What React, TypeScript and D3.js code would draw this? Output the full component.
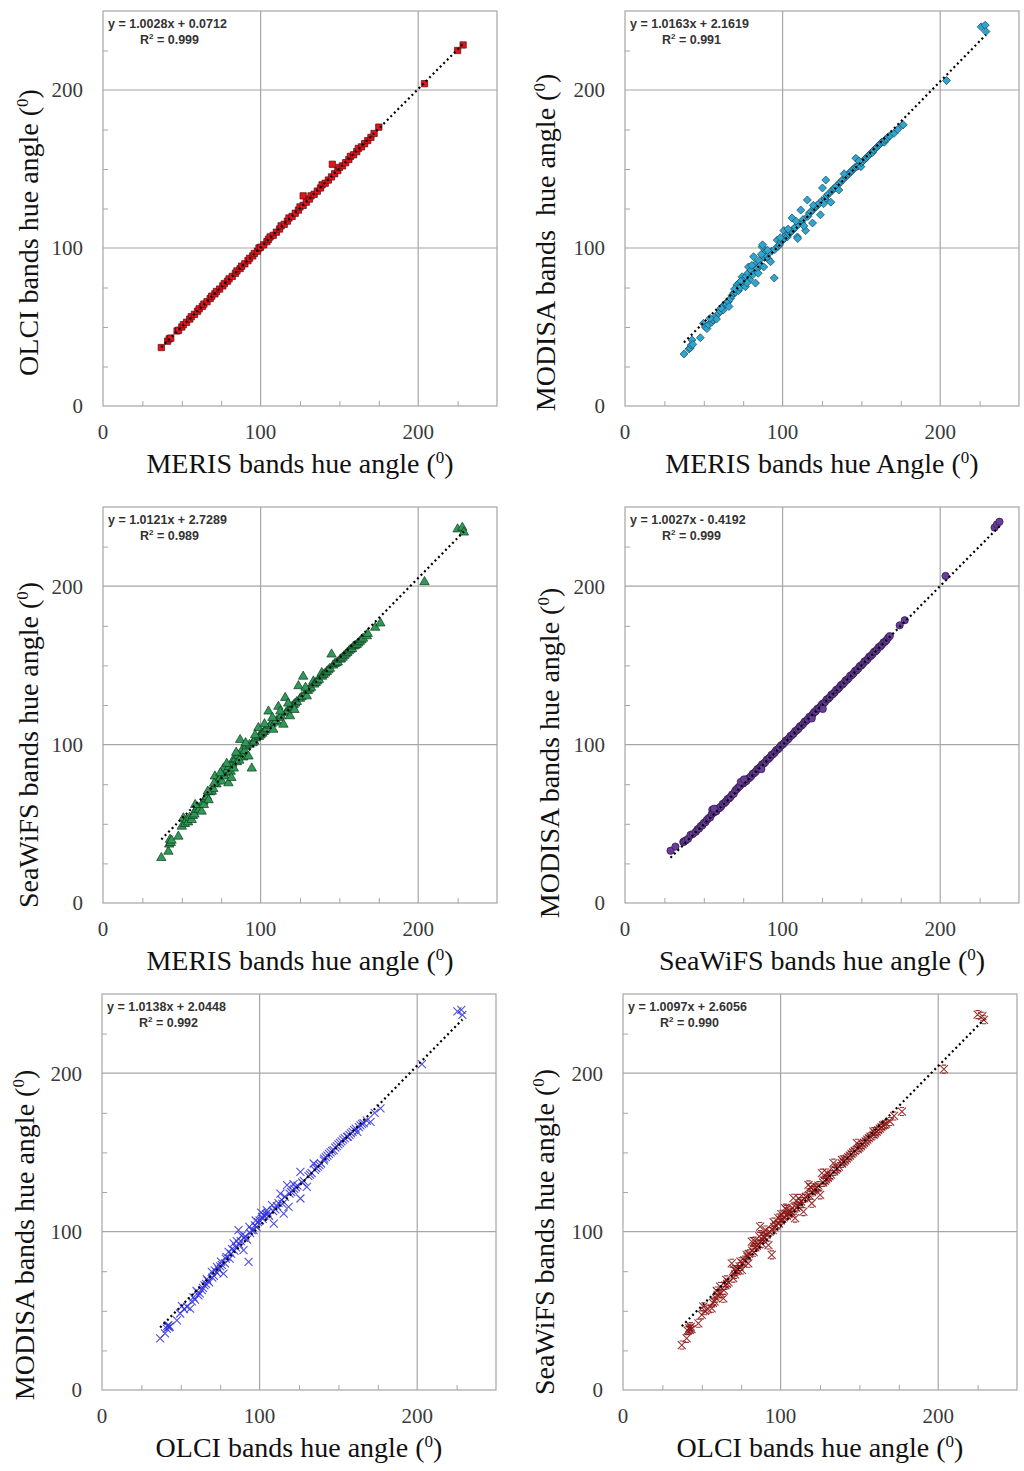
import { useEffect, useRef } from 'react';
import * as d3 from 'd3';

type Pt = [number, number];

// MERIS (x) vs OLCI (y)
const olciVsMeris: Pt[] = [
  [37, 37], [41, 41], [42, 42.5], [43, 43], [47, 47.5], [48, 48], [50, 50], [51, 51.5], [53, 53], [55, 55],
  [56, 56.5], [58, 58], [60, 60], [61, 61.5], [63, 63], [64, 64.5], [66, 66], [68, 68], [69, 69.5], [71, 71],
  [72, 72.5], [74, 74], [76, 76], [77, 77.5], [79, 79], [80, 80.5], [82, 82], [84, 84], [85, 85.5], [87, 87],
  [88, 88.5], [90, 90], [92, 92], [93, 93.5], [95, 95], [96, 96.5], [98, 98], [99, 100], [100, 100.5], [102, 102],
  [104, 104], [105, 105.5], [106, 107], [108, 108], [110, 110], [112, 112], [113, 114], [115, 115], [117, 117],
  [118, 119], [120, 120], [122, 122], [124, 124], [125, 126], [127, 127], [127, 133], [129, 129], [131, 131],
  [132, 133], [134, 134], [136, 136], [138, 138], [139, 140], [141, 141], [143, 143], [145, 145], [145.5, 153],
  [147, 147], [149, 149], [150, 151], [152, 152], [154, 154], [156, 156], [157, 158], [159, 159], [161, 161],
  [162, 163], [164, 164], [166, 166], [168, 168], [170, 170], [172, 172.5], [175, 176.5], [204, 204], [225, 225],
  [228.5, 228.5]
];

// MERIS (x) vs MODISA (y)
const modisVsMeris: Pt[] = [
  [37.4, 32.9], [40.5, 36], [41.4, 36.7], [42, 38.5], [42.5, 41.8], [43, 39], [47.8, 43.2], [49.8, 52.3], [51, 50],
  [52, 49], [53, 51.5], [55, 53], [56, 54.4], [57, 56], [58, 55], [59.4, 58.7], [60.5, 60], [62.4, 60.8], [63, 64],
  [64, 65], [65.5, 66], [66, 63], [67, 68], [68, 70], [69, 71.5], [70, 72], [71, 76.6], [72, 73], [72.5, 78], [73, 75],
  [74.3, 81.8], [75, 77], [76.4, 75.5], [76, 80], [77, 82], [78.4, 88], [78, 84], [79, 80], [80, 86], [81, 83],
  [81.6, 94.5], [82.8, 77.8], [83, 90], [84, 87], [85, 92], [86, 89], [87, 100.8], [87.3, 102], [88, 88], [88.5, 94],
  [89, 97], [90, 95], [91, 93], [92.4, 91.3], [93, 98], [94.7, 81], [95, 99], [96.6, 105], [97, 101], [98, 102],
  [99, 104], [100, 105], [100.8, 111], [101, 106], [102, 108], [103, 107], [104, 109], [105, 110], [106, 119],
  [106, 111], [107, 112], [108, 113], [109.4, 107], [109.6, 106], [110, 115], [111.5, 124], [112, 116], [113, 118],
  [114.6, 111], [115.7, 130.4], [116, 120], [117, 122], [118, 123], [119, 115.8], [120, 125], [121, 126], [122, 127],
  [123, 128], [124, 121], [125.3, 138], [125, 130], [127.4, 143], [127, 131], [128, 133], [129, 134], [130.6, 129],
  [131, 136], [132, 137], [133, 138], [134, 139], [135.7, 136.7], [136, 141], [137, 142], [138, 143], [140, 145],
  [141, 146], [142, 147], [143, 148], [144, 149], [145, 150], [146.5, 156.8], [146, 151], [147, 151.5], [148, 152],
  [149.7, 151.5], [150, 154], [151, 155], [152, 156], [153, 157], [154, 158], [155, 159], [156, 160], [157, 160.5],
  [158, 162], [159, 163], [160, 164], [161, 165], [162, 166], [163, 167], [164.5, 167], [165, 168.5], [166, 169],
  [167, 170], [168, 171], [170.7, 172.6], [173, 175], [176, 177.8], [176.5, 178], [204, 206], [226, 240],
  [228.5, 241], [229, 237],
  [54, 55.5], [61, 62], [69.5, 74], [73.5, 79], [77.5, 78], [80.5, 89], [84.5, 84], [86.5, 96], [90.5, 98.5],
  [98.5, 106.5], [103.5, 112], [108.5, 117], [113.5, 114], [119.5, 127], [126, 128], [139, 147], [148.5, 155]
];

// MERIS (x) vs SeaWiFS (y)
const seawifsVsMeris: Pt[] = [
  [37, 28.5], [41.5, 32.5], [42, 37], [42.5, 40], [43, 38], [43.5, 39.5], [47.8, 42], [50, 48.3], [51, 53.6], [52, 50],
  [53, 52.5], [54, 51], [55, 54], [56.3, 52.5], [57, 55], [58, 56], [59, 59], [60, 60.5], [61, 59], [62.6, 57.8],
  [63.7, 64], [64, 62], [65, 66], [66, 67], [67, 65], [68, 70], [69, 70.4], [70, 72], [71, 80], [72, 75], [73, 77],
  [74, 78], [75.4, 76.8], [76.4, 85], [77, 80], [78, 82], [79, 84], [79.6, 75.7], [80, 86], [81, 83], [82, 88],
  [82.7, 90.5], [83, 85], [84, 91], [85, 89], [86, 93], [87, 103], [88, 94.7], [88.5, 97], [89, 92], [90, 96],
  [91, 99], [92.3, 92.6], [93, 100], [94.4, 85], [95, 101], [96, 102], [97, 104], [98.6, 110.6], [99, 105],
  [100, 106], [101, 107], [102, 108], [103, 109], [104, 110], [105, 121], [106, 112], [107, 113], [108, 109.5],
  [109, 114], [110, 115], [111.3, 124], [112, 117], [113, 118], [114.5, 112.7], [115.6, 129.6], [116, 120],
  [117, 121], [118.7, 118], [119, 123], [120, 124], [121, 125], [122, 126], [123, 127], [124, 137], [125, 129],
  [126, 130], [127, 143], [128, 132], [129.3, 130.6], [130, 134], [131, 135], [132, 136], [133.5, 140], [134, 138],
  [135, 139], [136, 140], [137, 141], [138.8, 145.3], [139, 143], [140, 144], [141, 145], [142, 146], [143, 147],
  [144, 148], [145, 157], [146, 150], [147, 151], [148, 151.5], [149, 152], [150.5, 153.8], [151, 154], [152, 155],
  [153, 156], [154, 157], [155, 158], [156, 159], [157, 160], [158, 160.5], [159, 162], [160, 162.5], [161, 163],
  [162, 164], [163, 165], [164, 166], [165, 167], [167.4, 168.5], [168, 170], [172.7, 173.9], [176, 176.6],
  [204, 202.7], [225, 236], [228, 237], [229, 234],
  [58.5, 62], [66.5, 70.5], [70.5, 75.5], [74.5, 82], [78.5, 88], [81.5, 79], [84.5, 95], [86.5, 90],
  [90.5, 101], [96.5, 106], [102.5, 113], [107.5, 117], [112.5, 121], [117.5, 126], [121.5, 122], [128.5, 136]
];

// SeaWiFS (x) vs MODISA (y)
const modisVsSeawifs: Pt[] = [
  [28.9, 33], [32, 35.6], [37, 38.5], [37.4, 38.8], [38.5, 39.5], [40, 40.5], [41.6, 43], [43, 43.5], [45, 45],
  [46, 46.5], [47, 47], [48, 48.5], [49, 49], [50, 50.5], [51, 51], [52, 52.5], [53, 53.5], [54, 54], [55.4, 58.9],
  [55, 56], [56, 57], [57, 57.5], [58, 58], [59, 59.5], [60, 60], [61, 61], [62, 62.5], [63, 63], [64, 64],
  [65, 65.5], [66, 66], [67, 67], [68, 68.5], [69, 69], [70, 71], [71, 72], [72, 73], [73, 74], [74.5, 76],
  [75, 75.5], [76, 76.5], [77, 77], [78, 78.5], [79, 79], [80, 80], [81, 81.5], [82, 82], [83, 83], [84, 84.5],
  [85, 85], [86, 86], [87, 87.5], [88, 88], [89, 89], [90, 90.5], [91, 91], [92, 92], [93, 93.5], [94, 94],
  [95, 95], [96, 96.5], [97, 97], [98, 98], [99, 99.5], [100, 100], [101, 101], [102, 102.5], [103, 103],
  [104, 104], [105, 105.5], [106, 106], [107, 107], [108, 108.5], [109, 109], [110, 110], [111, 111.5],
  [112, 112], [113, 113], [114, 114.5], [115, 115], [116, 116], [117, 117.5], [118, 118], [119, 119],
  [120, 120.5], [121, 121], [122, 122.5], [123, 123], [124, 124], [125, 125.5], [126, 126], [127, 127],
  [128, 128.5], [129, 129], [130, 130], [131, 131.5], [132, 132], [133, 133], [134, 134.5], [135, 135],
  [136, 136], [137, 137.5], [138, 138], [139, 139], [140, 140.5], [141, 141], [142, 142], [143, 143.5],
  [144, 144], [145, 145], [146, 146.5], [147, 147], [148, 148], [149, 149.5], [150, 150], [151, 151],
  [152, 152.5], [153, 153], [154, 154], [155, 155.5], [156, 156], [157, 157], [158, 158.5], [159, 159],
  [160, 160], [161, 161.5], [162, 162], [163, 163], [164, 164.5], [165, 165], [166, 166], [167, 167.5],
  [168, 168.5], [174.3, 175.3], [177.5, 178.5], [203.4, 206.5], [234.5, 237], [236, 239], [237.6, 240.7],
  [56.5, 59.5], [73.5, 76.5], [75.5, 78], [86.5, 84.5], [118.5, 116.5], [125.5, 122.5]
];

// OLCI (x) vs MODISA (y)
const modisVsOlci: Pt[] = [
  [36.9, 32.6], [40, 35.8], [41.1, 38.8], [42.1, 41], [42.5, 39.5], [43, 40], [41.5, 40.5], [47.5, 44], [49.6, 48.3],
  [50.7, 53], [52, 51], [54, 52.5], [55.9, 51.4], [57, 56], [58, 58.5], [59, 57], [61.2, 59.8], [62, 61], [63.4, 63],
  [64, 64.5], [65, 66], [66, 67], [67, 69], [68, 68], [69.7, 74.6], [70, 71], [71, 72], [72.9, 77.7], [73, 74],
  [74, 76], [75, 78], [76, 79], [77.1, 73.5], [78, 80], [79, 84], [80.3, 87.2], [81, 83], [82, 86], [83.5, 92.5],
  [84, 88], [85, 90], [86.6, 100.9], [87, 92], [88, 94], [89.8, 88.3], [90, 96], [91, 97], [92, 95], [93, 80.9],
  [94, 99], [95, 101], [96.2, 100.9], [97, 104], [98, 103], [99, 106], [100, 107], [101.5, 109.3], [102, 108],
  [103, 110], [104, 111], [105, 112], [106, 110], [107.9, 116.7], [109, 105], [110, 114], [111, 116], [112, 118],
  [113.2, 124], [114, 120], [115.3, 111.4], [116, 122], [117.4, 129.3], [118.4, 115.6], [119, 124], [120, 125],
  [121, 126], [122, 127], [123, 128], [124, 129], [125.9, 137.7], [125.9, 120.9], [127, 131], [128, 132],
  [130, 128.3], [131, 135], [132, 136], [133, 137], [134.3, 143], [135, 139], [136, 140], [137, 141], [138, 142],
  [139, 143], [140.7, 145], [141, 146], [142, 147], [143, 148], [144, 149], [145, 150], [146, 151], [147, 151.4],
  [148, 153], [149, 154], [150, 155], [151, 156], [152, 157], [153, 158], [154, 159], [155.5, 159.8], [156, 160],
  [157, 161], [158, 162], [159, 163], [160, 164], [161, 165], [162, 163], [163, 166], [164, 167], [165, 168],
  [166, 168.5], [168, 170], [170.4, 169.3], [173, 175], [176.7, 177.8], [203, 205.7], [225.5, 239], [228, 240],
  [228.7, 236.8],
  [60, 62.5], [66.5, 70], [71.5, 75.5], [75.5, 81], [78.5, 83], [82.5, 89], [85.5, 94], [88.5, 97.5],
  [93.5, 103], [97.5, 107], [101, 112], [104.5, 113.5], [108.5, 113], [114.5, 117.5], [121.5, 130]
];

// OLCI (x) vs SeaWiFS (y)
const seawifsVsOlci: Pt[] = [
  [37.3, 28.4], [40.4, 32.6], [41, 37.5], [42, 39], [42.5, 38], [43, 40], [43.5, 38.5], [47.8, 42.1], [50, 47.4],
  [51, 52.6], [52, 50], [54, 51], [56.3, 51.6], [57, 55], [58, 56], [59, 58], [60, 60], [61.6, 65.3], [62, 61],
  [63.7, 57.9], [64, 63], [65, 66], [66, 67], [67, 68], [69, 80], [70, 70.6], [71, 73], [72, 75], [73, 76], [74, 78],
  [75.4, 75.8], [76, 80], [77, 82], [78.5, 85.3], [79, 84], [80, 86], [81.7, 93.7], [82, 88], [83, 87], [84, 90],
  [85, 91], [86, 92], [87, 103.2], [88, 92.6], [88.5, 95], [89, 97], [90, 96], [91, 98], [92.3, 91.5], [93, 100],
  [94.4, 85.3], [95, 101], [96, 103], [97, 104], [98.6, 108.5], [99, 105], [100, 107], [101, 108], [102, 109],
  [102.9, 114.8], [104, 110], [105, 111], [106, 113], [107, 112], [108.1, 121.1], [109.2, 108.5], [110, 115],
  [111, 116], [112, 118], [113, 119], [114.5, 112.6], [115, 121], [116, 122], [117.7, 129.5], [118, 123],
  [119.8, 117.9], [120, 125], [121, 126], [122, 127], [123, 128], [124, 129], [125.1, 123.2], [126.2, 136.9],
  [127, 131], [128, 132], [129, 133], [130, 134], [131, 135], [132, 136], [133.5, 143.2], [134, 138], [135, 139],
  [136, 140], [137, 141], [138.9, 145.3], [139, 143], [140, 144], [141, 145], [142, 146], [143, 147], [144, 148],
  [145, 149], [146, 150], [147, 151], [148.4, 155.8], [149, 152], [150, 153], [151, 154], [152, 155], [153, 156],
  [154, 157], [155, 158], [156, 159], [157, 160], [158.9, 163.2], [159, 161], [160, 162], [161, 163], [162, 164],
  [163, 165], [164, 166], [165, 167], [166, 167.5], [167, 168], [169.5, 169.5], [172, 173], [177, 175.8],
  [203.6, 202.6], [225, 237], [228, 236], [229, 233.7],
  [59.5, 62.5], [65.5, 69.5], [70.5, 76], [74.5, 81], [79.5, 80], [83.5, 94], [86.5, 97], [90.5, 101],
  [95.5, 106], [100.5, 111], [103.5, 114], [107.5, 115], [111.5, 121], [119, 128], [129.5, 137]
];

const labelTicks = [0, 100, 200];
const minorTicks = [25, 50, 75, 125, 150, 175, 225];
const gridTicks = [100, 200];
const axisMax = 250;

type Marker = 'square' | 'diamond' | 'triangle' | 'circle' | 'x' | 'star';

interface Panel {
  data: Pt[];
  xLabel: string;
  yLabel: string;
  slope: number;
  intercept: number;
  r2: string;
  marker: Marker;
  fill: string;
  stroke: string;
  // layout
  left: number;
  top: number;
  width: number;
  height: number;
  yTitleGap: number;
  yTitleShift: number;
}

const panels: Panel[] = [
  {
    data: olciVsMeris, xLabel: 'MERIS bands hue angle ', yLabel: 'OLCI bands hue angle ',
    slope: 1.0028, intercept: 0.0712, r2: '0.999', marker: 'square', fill: '#e3141c', stroke: '#5a0a0a',
    left: 103, top: 11, width: 394, height: 395, yTitleGap: 65, yTitleShift: 24
  },
  {
    data: modisVsMeris, xLabel: 'MERIS bands hue Angle ', yLabel: 'MODISA bands  hue angle ',
    slope: 1.0163, intercept: 2.1619, r2: '0.991', marker: 'diamond', fill: '#2fa6cf', stroke: '#184a5c',
    left: 625, top: 11, width: 394, height: 395, yTitleGap: 70, yTitleShift: 34
  },
  {
    data: seawifsVsMeris, xLabel: 'MERIS bands hue angle ', yLabel: 'SeaWiFS bands hue angle ',
    slope: 1.0121, intercept: 2.7289, r2: '0.989', marker: 'triangle', fill: '#2f9a58', stroke: '#0f3a1c',
    left: 103, top: 507, width: 394, height: 396, yTitleGap: 65, yTitleShift: 40
  },
  {
    data: modisVsSeawifs, xLabel: 'SeaWiFS bands hue angle ', yLabel: 'MODISA bands hue angle ',
    slope: 1.0027, intercept: -0.4192, r2: '0.999', marker: 'circle', fill: '#6a3c9c', stroke: '#2c1848',
    left: 625, top: 507, width: 394, height: 396, yTitleGap: 66, yTitleShift: 48
  },
  {
    data: modisVsOlci, xLabel: 'OLCI bands hue angle ', yLabel: 'MODISA bands hue angle ',
    slope: 1.0138, intercept: 2.0448, r2: '0.992', marker: 'x', fill: 'none', stroke: '#2f2fe0',
    left: 102, top: 994, width: 394, height: 396, yTitleGap: 68, yTitleShift: 43
  },
  {
    data: seawifsVsOlci, xLabel: 'OLCI bands hue angle ', yLabel: 'SeaWiFS bands hue angle ',
    slope: 1.0097, intercept: 2.6056, r2: '0.990', marker: 'star', fill: 'none', stroke: '#8a1010',
    left: 623, top: 994, width: 394, height: 396, yTitleGap: 69, yTitleShift: 40
  }
];

const gridColor = '#a6a6a6';
const serif = '"Liberation Serif", "DejaVu Serif", serif';
const sans = '"Liberation Sans", Arial, sans-serif';

function markerPath(m: Marker): string {
  if (m === 'square') return d3.symbol(d3.symbolSquare, 40)() as string;
  if (m === 'diamond') return d3.symbol(d3.symbolSquare, 32)() as string;
  if (m === 'triangle') return d3.symbol(d3.symbolTriangle, 38)() as string;
  if (m === 'circle') return d3.symbol(d3.symbolCircle, 42)() as string;
  if (m === 'x') return 'M-4,-4L4,4M4,-4L-4,4';
  return 'M-4,-4L4,4M4,-4L-4,4M-2.2,-4L2.2,-4M-2.2,4L2.2,4';
}

function appendTitle(sel: d3.Selection<SVGTextElement, unknown, null, undefined>, label: string) {
  sel.append('tspan').text(label + '(');
  sel.append('tspan').attr('font-size', 17).attr('dy', -10).text('0');
  sel.append('tspan').attr('dy', 10).text(')');
}

function drawPanel(svg: d3.Selection<SVGSVGElement, unknown, null, undefined>, p: Panel) {
  const x = d3.scaleLinear().domain([0, axisMax]).range([p.left, p.left + p.width]);
  const y = d3.scaleLinear().domain([0, axisMax]).range([p.top + p.height, p.top]);
  const bottom = p.top + p.height;
  const g = svg.append('g');

  // grid lines
  g.selectAll('line.gx').data(gridTicks).join('line').attr('class', 'gx')
    .attr('x1', d => x(d)).attr('x2', d => x(d)).attr('y1', p.top).attr('y2', bottom)
    .attr('stroke', gridColor).attr('stroke-width', 1.2);
  g.selectAll('line.gy').data(gridTicks).join('line').attr('class', 'gy')
    .attr('y1', d => y(d)).attr('y2', d => y(d)).attr('x1', p.left).attr('x2', p.left + p.width)
    .attr('stroke', gridColor).attr('stroke-width', 1.2);

  // frame
  g.append('rect').attr('x', p.left).attr('y', p.top).attr('width', p.width).attr('height', p.height)
    .attr('fill', 'none').attr('stroke', gridColor).attr('stroke-width', 1.2);

  // minor ticks inside
  const bx = g.append('g').attr('transform', `translate(0,${bottom})`)
    .call(d3.axisBottom(x).tickValues(minorTicks).tickSize(-5).tickFormat(() => ''));
  bx.select('.domain').remove();
  bx.selectAll('line').attr('stroke', gridColor);
  const ly = g.append('g').attr('transform', `translate(${p.left},0)`)
    .call(d3.axisLeft(y).tickValues(minorTicks).tickSize(-5).tickFormat(() => ''));
  ly.select('.domain').remove();
  ly.selectAll('line').attr('stroke', gridColor);

  // tick labels
  g.selectAll('text.xt').data(labelTicks).join('text').attr('class', 'xt')
    .attr('x', d => x(d)).attr('y', bottom + 33).attr('text-anchor', 'middle')
    .attr('font-family', serif).attr('font-size', 21).attr('fill', '#3a3a3a').text(d => d);
  g.selectAll('text.yt').data(labelTicks).join('text').attr('class', 'yt')
    .attr('x', p.left - 20).attr('y', d => y(d)).attr('dy', '0.35em').attr('text-anchor', 'end')
    .attr('font-family', serif).attr('font-size', 21).attr('fill', '#3a3a3a').text(d => d);

  // markers
  const path = markerPath(p.marker);
  const stroked = p.marker === 'x' || p.marker === 'star';
  g.selectAll('path.pt').data(p.data).join('path').attr('class', 'pt')
    .attr('d', path)
    .attr('transform', d => `translate(${x(d[0])},${y(d[1])})${p.marker === 'diamond' ? ' rotate(45)' : ''}`)
    .attr('fill', p.fill).attr('stroke', p.stroke)
    .attr('stroke-width', stroked ? 1.1 : 0.7)
    .attr('stroke-opacity', stroked ? 0.85 : 1);

  // trend line
  const [x0, x1] = d3.extent(p.data, d => d[0]) as [number, number];
  const trend = d3.line<number>().x(v => x(v)).y(v => y(p.slope * v + p.intercept));
  g.append('path').attr('d', trend([x0, x1]) as string)
    .attr('fill', 'none').attr('stroke', '#000').attr('stroke-width', 2.2)
    .attr('stroke-dasharray', '2,3');

  // equation
  const sign = p.intercept < 0 ? '-' : '+';
  g.append('text').attr('x', p.left + 5).attr('y', p.top + 17)
    .attr('font-family', sans).attr('font-size', 12.5).attr('font-weight', 700).attr('fill', '#333')
    .text(`y = ${p.slope.toFixed(4)}x ${sign} ${Math.abs(p.intercept).toFixed(4)}`);
  const r = g.append('text').attr('x', p.left + 37).attr('y', p.top + 33)
    .attr('font-family', sans).attr('font-size', 12.5).attr('font-weight', 700).attr('fill', '#333');
  r.append('tspan').text('R');
  r.append('tspan').attr('font-size', 8).attr('dy', -5).text('2');
  r.append('tspan').attr('dy', 5).text(` = ${p.r2}`);

  // axis titles
  const xt = g.append('text').attr('x', p.left + p.width / 2).attr('y', bottom + 67)
    .attr('text-anchor', 'middle').attr('font-family', serif).attr('font-size', 28).attr('fill', '#111');
  appendTitle(xt, p.xLabel);

  const cy = p.top + p.height / 2 + p.yTitleShift;
  const cx = p.left - p.yTitleGap;
  const yt = g.append('text').attr('transform', `translate(${cx},${cy}) rotate(-90)`)
    .attr('text-anchor', 'middle').attr('font-family', serif).attr('font-size', 28).attr('fill', '#111')
    .style('white-space', 'pre');
  appendTitle(yt, p.yLabel);
}

export default function App() {
  const svgRef = useRef<SVGSVGElement>(null);

  useEffect(() => {
    const svg = d3.select(svgRef.current as SVGSVGElement);
    svg.selectAll('*').remove();
    svg.append('rect').attr('width', 1024).attr('height', 1471).attr('fill', '#fff');
    panels.forEach(p => drawPanel(svg, p));
  }, []);

  return (
    <div style={{ position: 'absolute', left: 0, top: 0 }}>
      <svg ref={svgRef} width={1024} height={1471} style={{ display: 'block' }}></svg>
    </div>
  );
}
